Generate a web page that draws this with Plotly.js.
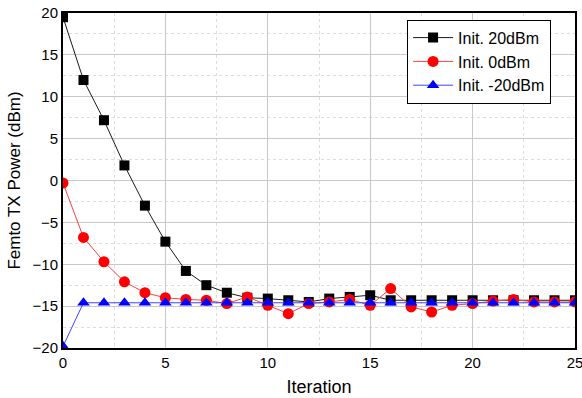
<!DOCTYPE html>
<html>
<head>
<meta charset="utf-8">
<script src="https://cdn.plot.ly/plotly-3.0.1.min.js"></script>
<style>html,body{margin:0;padding:0;background:#fff}#chart{width:582px;height:398px}</style>
</head>
<body>
<div id="chart"></div>
<script>
const iterations = [0,1,2,3,4,5,6,7,8,9,10,11,12,13,14,15,16,17,18,19,20,21,22,23,24,25];
const init20 = [19.5,12.0,7.2,1.8,-3.0,-7.3,-10.8,-12.5,-13.4,-14.0,-14.1,-14.3,-14.5,-14.1,-13.9,-13.7,-14.3,-14.3,-14.3,-14.3,-14.3,-14.3,-14.3,-14.3,-14.3,-14.3];
const init0 = [-0.3,-6.8,-9.7,-12.1,-13.4,-14.0,-14.2,-14.3,-14.7,-13.9,-14.9,-15.9,-14.7,-14.5,-14.2,-14.9,-12.9,-15.1,-15.7,-14.9,-14.7,-14.4,-14.2,-14.5,-14.5,-14.5];
const initM20 = [-19.8,-14.6,-14.6,-14.6,-14.6,-14.6,-14.6,-14.6,-14.6,-14.6,-14.6,-14.6,-14.6,-14.6,-14.6,-14.6,-14.6,-14.6,-14.6,-14.6,-14.6,-14.6,-14.6,-14.6,-14.6,-14.6];
const names = ["Init. 20dBm","Init. 0dBm","Init. -20dBm"];

const traces = [
  {x: iterations, y: init20, name: names[0], mode: "lines+markers",
   line: {color: "#1a1a1a", width: 1}, marker: {symbol: "square", size: 10, color: "#000000"}},
  {x: iterations, y: init0, name: names[1], mode: "lines+markers",
   line: {color: "#ff4040", width: 1}, marker: {symbol: "circle", size: 11, color: "#ff0000"}},
  {x: iterations, y: initM20, name: names[2], mode: "lines+markers",
   line: {color: "#4040ff", width: 1}, marker: {symbol: "triangle-up", size: 11, color: "#0000ff"}}
];

const fam = "Liberation Sans, Arial, sans-serif";
const layout = {
  width: 582, height: 398,
  margin: {l: 63, r: 7, t: 13, b: 50},
  paper_bgcolor: "#fff", plot_bgcolor: "#fff",
  font: {family: fam, size: 15, color: "#000"},
  showlegend: true,
  legend: {x: 0.672, y: 0.98, xanchor: "left", yanchor: "top",
           bordercolor: "#000", borderwidth: 1, bgcolor: "#fff",
           font: {family: fam, size: 16, color: "#000"},
           tracegroupgap: 0, itemwidth: 40},
  xaxis: {range: [0, 25], dtick: 5, tick0: 0, showline: true, mirror: true,
          linecolor: "#000", linewidth: 2, ticks: "", zeroline: false,
          ticklabeloverflow: "allow",
          showgrid: true, gridcolor: "#c8c8c8", gridwidth: 1,
          minor: {dtick: 2.5, showgrid: true, gridcolor: "#dddddd", griddash: "dot", gridwidth: 1},
          tickfont: {family: fam, size: 15, color: "#000"},
          title: {text: "Iteration", font: {family: fam, size: 18, color: "#000"}, standoff: 10}},
  yaxis: {range: [-20, 20], dtick: 5, tick0: 0, showline: true, mirror: true,
          linecolor: "#000", linewidth: 2, ticks: "", zeroline: false,
          showgrid: true, gridcolor: "#c8c8c8", gridwidth: 1,
          minor: {dtick: 2.5, showgrid: true, gridcolor: "#dddddd", griddash: "dot", gridwidth: 1},
          tickfont: {family: fam, size: 15, color: "#000"},
          title: {text: "Femto TX Power (dBm)", font: {family: fam, size: 17, color: "#000"}, standoff: 8}}
};

Plotly.newPlot("chart", traces, layout, {displayModeBar: false, staticPlot: true});
</script>
</body>
</html>
